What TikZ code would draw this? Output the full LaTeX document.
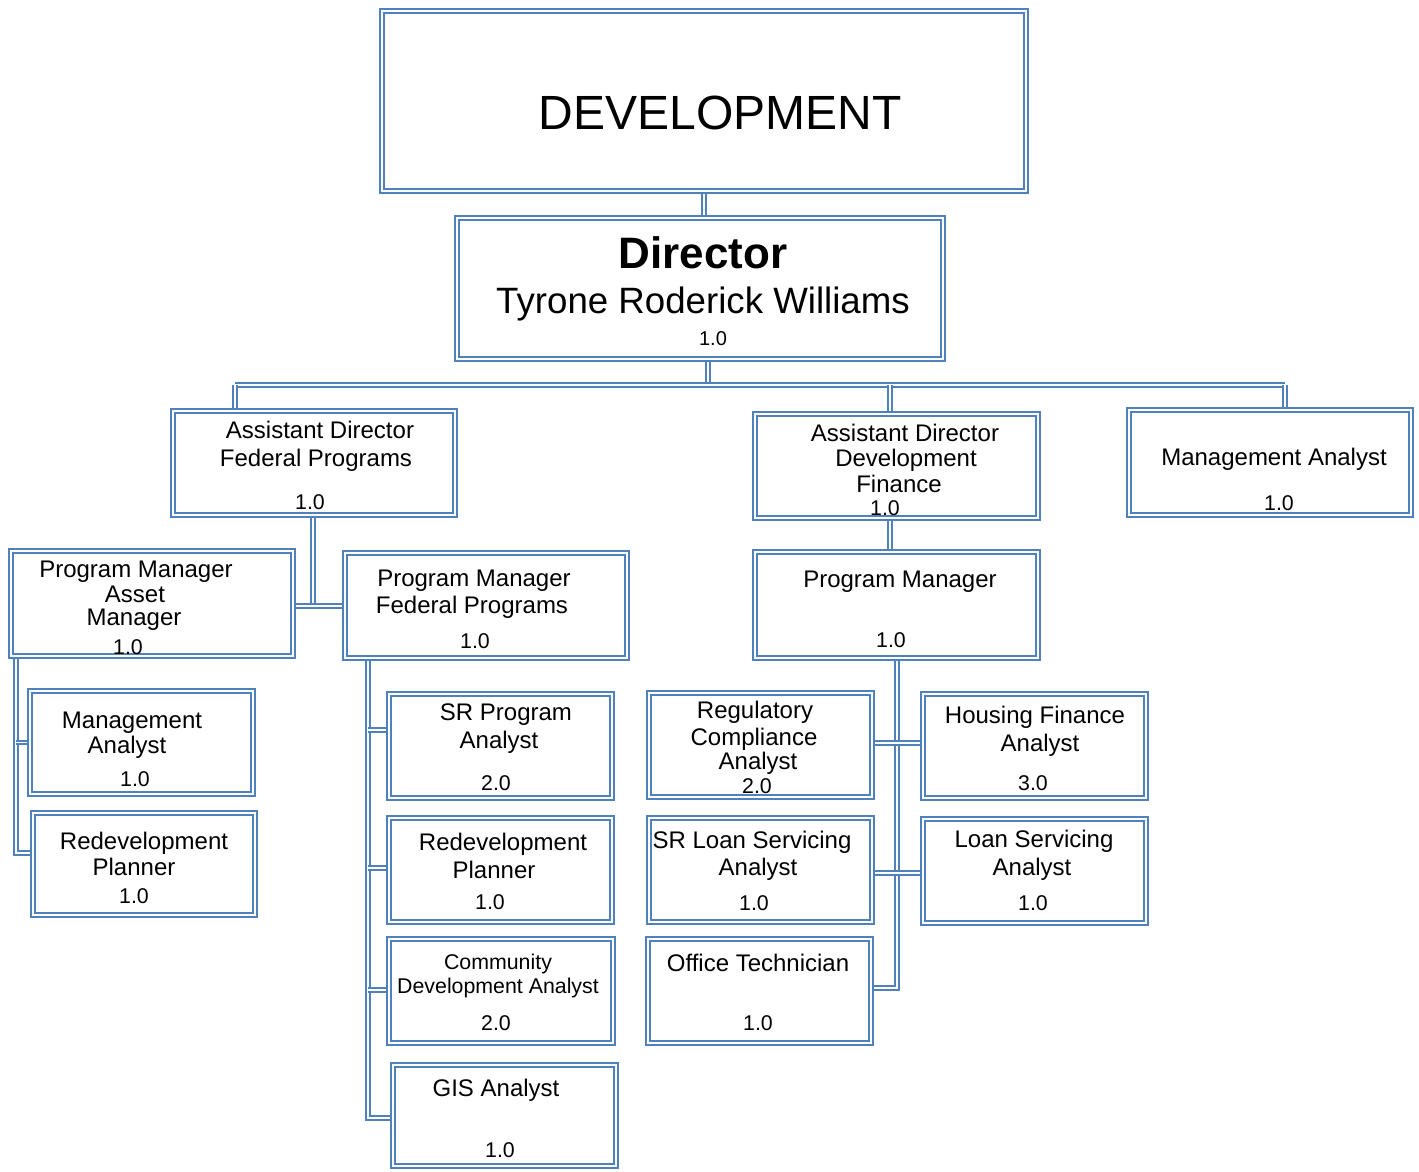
\documentclass[tikz,border=0pt]{standalone}
\usepackage{fontspec}
\setmainfont{Liberation Sans}
\usetikzlibrary{fit}
\pgfdeclarelayer{bg}
\pgfsetlayers{bg,main}
\definecolor{ob}{RGB}{79,129,189}
\newcommand\obox[5]{\node[orgbox, fit={({#2+2.8},{#3+2.8}) ({#4-2.8},{#5-2.8})}] (#1) {};}
\newcommand\tl[4]{\node[lbl] (#1) at (#2,#3) {#4};}
\newcommand\tn[4]{\node[num] (#1) at (#2,#3) {#4};}
\begin{document}
\begin{tikzpicture}[x=0.75pt,y=-0.75pt,
  orgbox/.style={draw=ob, double=white, double distance=1.3pt, line width=1.45pt, fill=white, inner sep=0pt},
  conn/.style={draw=ob, double=white, double distance=1.3pt, line width=1.45pt},
  lbl/.style={anchor=base, inner sep=0pt, font=\fontsize{18}{20}\selectfont},
  num/.style={anchor=base, inner sep=0pt, font=\fontsize{16}{18}\selectfont},
  sml/.style={anchor=base, inner sep=0pt, font=\fontsize{16}{18}\selectfont}]
\useasboundingbox (0,0) rectangle (1419,1171);

% boxes
\obox{dev}{379}{8}{1029}{194}
\obox{dir}{454}{215}{946}{362}
\obox{afp}{170}{408}{458}{518}
\obox{adf}{752}{411}{1041}{521}
\obox{ma1}{1126}{407}{1414}{518}
\obox{pma}{8}{548}{296}{659}
\obox{pmf}{342}{550}{630}{661}
\obox{pm}{752}{549}{1041}{661}
\obox{ma2}{27}{688}{256}{797}
\obox{rp1}{30}{810}{258}{918}
\obox{sra}{386}{691}{615}{801}
\obox{rp2}{386}{815}{615}{925}
\obox{cda}{386}{936}{616}{1046}
\obox{gis}{390}{1062}{619}{1169}
\obox{rca}{646}{690}{875}{800}
\obox{hfa}{920}{691}{1149}{801}
\obox{sla}{646}{815}{875}{925}
\obox{lsa}{920}{816}{1149}{926}
\obox{ot}{645}{936}{874}{1046}

% junction points
\coordinate (dj) at (708,385);
\coordinate (bl) at (235,385);
\coordinate (bm) at (890,385);
\coordinate (br) at (1285,385);
\coordinate (fj) at (313,606);
\coordinate (lb) at (16,853);
\coordinate (mb) at (368,1118);
\coordinate (s1) at (368,730);
\coordinate (s2) at (368,868);
\coordinate (s3) at (368,990);
\coordinate (rb) at (897,988);
\coordinate (r1) at (897,743);
\coordinate (r2) at (897,873);

% connectors (behind the boxes)
\begin{pgfonlayer}{bg}
\draw[conn] (dev.south) -- (dev.south |- dir.north);
\draw[conn] (dir.south -| dj) -- (dj);
\draw[conn] (bl) -- (br);
\draw[conn] (bl) -- (bl |- afp.north);
\draw[conn] (bm) -- (bm |- adf.north);
\draw[conn] (br) -- (br |- ma1.north);
\draw[conn] (afp.south -| fj) -- (fj);
\draw[conn] (pma.east |- fj) -- (pmf.west |- fj);
\draw[conn] (adf.south -| bm) -- (pm.north -| bm);
\draw[conn] (pma.south -| lb) -- (lb) -- (lb -| rp1.west);
\draw[conn] (lb |- ma2.west) -- (ma2.west);
\draw[conn] (pmf.south -| mb) -- (mb) -- (mb -| gis.west);
\draw[conn] (s1) -- (s1 -| sra.west);
\draw[conn] (s2) -- (s2 -| rp2.west);
\draw[conn] (s3) -- (s3 -| cda.west);
\draw[conn] (pm.south -| rb) -- (rb) -- (rb -| ot.east);
\draw[conn] (r1 -| rca.east) -- (r1 -| hfa.west);
\draw[conn] (r2 -| sla.east) -- (r2 -| lsa.west);
\end{pgfonlayer}

% texts
\node[anchor=base, inner sep=0pt, font=\fontsize{36}{40}\selectfont] (devt) at (720,129) {DEVELOPMENT};
\node[anchor=base, inner sep=0pt, font=\fontsize{33}{36}\selectfont\bfseries] (dirt) at (703,268) {Director};
\node[anchor=base, inner sep=0pt, font=\fontsize{27.5}{30}\selectfont] (dirn2) at (703,313) {Tyrone Roderick Williams};
\node[anchor=base, inner sep=0pt, font=\fontsize{15}{18}\selectfont] (dirv) at (713,345) {1.0};

\tl{afpa}{320}{438}{Assistant Director}
\tl{afpb}{316}{466}{Federal Programs}
\tn{afpv}{310}{509}{1.0}

\tl{adfa}{905}{441}{Assistant Director}
\tl{adfb}{906}{466}{Development}
\tl{adfc}{899}{492}{Finance}
\tn{adfv}{885}{515}{1.0}

\tl{ma1a}{1274}{465}{Management Analyst}
\tn{ma1v}{1279}{510}{1.0}

\tl{pmaa}{136}{577}{Program Manager}
\tl{pmab}{135}{602}{Asset}
\tl{pmac}{134}{625}{Manager}
\tn{pmav}{128}{654}{1.0}

\tl{pmfa}{474}{586}{Program Manager}
\tl{pmfb}{472}{613}{Federal Programs}
\tn{pmfv}{475}{648}{1.0}

\tl{pma2}{900}{587}{Program Manager}
\tn{pmv}{891}{647}{1.0}

\tl{ma2a}{132}{728}{Management}
\tl{ma2b}{127}{753}{Analyst}
\tn{ma2v}{135}{786}{1.0}

\tl{rp1a}{144}{849}{Redevelopment}
\tl{rp1b}{134}{875}{Planner}
\tn{rp1v}{134}{903}{1.0}

\tl{sraa}{506}{720}{SR Program}
\tl{srab}{499}{748}{Analyst}
\tn{srav}{496}{790}{2.0}

\tl{rp2a}{503}{850}{Redevelopment}
\tl{rp2b}{494}{878}{Planner}
\tn{rp2v}{490}{909}{1.0}

\node[sml] (cdaa) at (498,969) {Community};
\node[sml] (cdab) at (498,993) {Development Analyst};
\tn{cdav}{496}{1030}{2.0}

\tl{gisa}{496}{1096}{GIS Analyst}
\tn{gisv}{500}{1157}{1.0}

\tl{rcaa}{755}{718}{Regulatory}
\tl{rcab}{754}{745}{Compliance}
\tl{rcac}{758}{769}{Analyst}
\tn{rcav}{757}{793}{2.0}

\tl{hfaa}{1035}{723}{Housing Finance}
\tl{hfab}{1040}{751}{Analyst}
\tn{hfav}{1033}{790}{3.0}

\tl{slaa}{752}{848}{SR Loan Servicing}
\tl{slab}{758}{875}{Analyst}
\tn{slav}{754}{910}{1.0}

\tl{lsaa}{1034}{847}{Loan Servicing}
\tl{lsab}{1032}{875}{Analyst}
\tn{lsav}{1033}{910}{1.0}

\tl{ota}{758}{971}{Office Technician}
\tn{otv}{758}{1030}{1.0}
\end{tikzpicture}
\end{document}
